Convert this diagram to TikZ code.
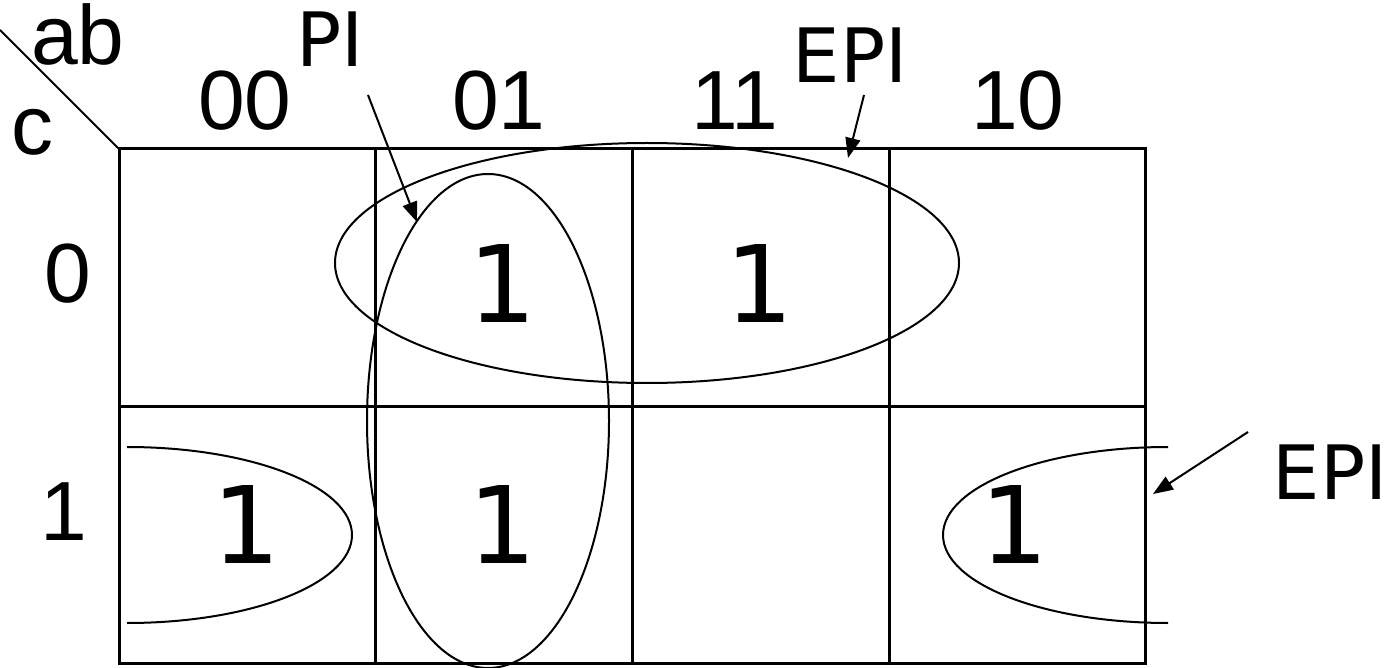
\documentclass[tikz,border=0pt]{standalone}
\usepackage{fontspec}
\setmainfont{Liberation Sans}
\newfontfamily\tahfont{DejaVu Sans}
\usetikzlibrary{arrows.meta}
\begin{document}
\begin{tikzpicture}[x=1pt,y=-1pt,
  gridline/.style={line width=3pt},
  loop/.style={line width=2pt},
  lbl/.style={font=\fontsize{84}{84}\selectfont, inner sep=0pt, anchor=base},
  one/.style={font=\tahfont\fontsize{107}{107}\selectfont, inner sep=0pt, anchor=base},
  tag/.style={font=\tahfont\fontsize{75}{75}\selectfont, inner sep=0pt, anchor=base},
  pointer/.style={line width=2pt, -{Triangle[length=20pt,width=15pt]}}]
\useasboundingbox (0,0) rectangle (1398,668);
% grid
\coordinate (tl) at (119,149);
\draw[gridline] (119,149) rectangle (1145,663);
\draw[gridline] (119,406) -- (1145,406);
\draw[gridline] (375,149) -- (375,663);
\draw[gridline] (632,149) -- (632,663);
\draw[gridline] (889,149) -- (889,663);
% diagonal
\coordinate (dstart) at (0,30);
\draw[line width=2pt] (dstart) -- (tl);
% headers
\node[lbl] (ab) at (78,65) {ab};
\node[lbl] (c) at (33,155) {c};
\node[lbl] (h00) at (245,130) {00};
\node[lbl] (h01) at (499,130) {01};
\node[lbl] (h11) at (735,130) {11};
\node[lbl] (h10) at (1018,130) {10};
\node[lbl] (r0) at (68,303) {0};
\node[lbl] (r1) at (64,540) {1};
% cell ones
\node[one] (c01) at (503,323) {1};
\node[one] (c11) at (760,323) {1};
\node[one] (d00) at (247,563) {1};
\node[one] (d01) at (503,563) {1};
\node[one] (d10) at (1015,563) {1};
% loops
\draw[loop] (647,263) ellipse [x radius=312, y radius=120];
\draw[loop] (488,421) ellipse [x radius=121, y radius=247];
\draw[loop] (127,447) arc[start angle=-90, end angle=90, x radius=225, y radius=88];
\draw[loop] (1168,447) arc[start angle=-90, end angle=-270, x radius=225, y radius=88];
% labels and pointers
\node[tag] (pi) at (330,67) {PI};
\node[tag] (epi1) at (850,83) {EPI};
\node[tag] (epi2) at (1330,499) {EPI};
\coordinate (pis) at (368,95);
\coordinate (pit) at (417,222);
\coordinate (e1s) at (864,95);
\coordinate (e1t) at (848,158);
\coordinate (e2s) at (1248,432);
\coordinate (e2t) at (1153,494);
\draw[pointer] (pis) -- (pit);
\draw[pointer] (e1s) -- (e1t);
\draw[pointer] (e2s) -- (e2t);
\end{tikzpicture}
\end{document}
